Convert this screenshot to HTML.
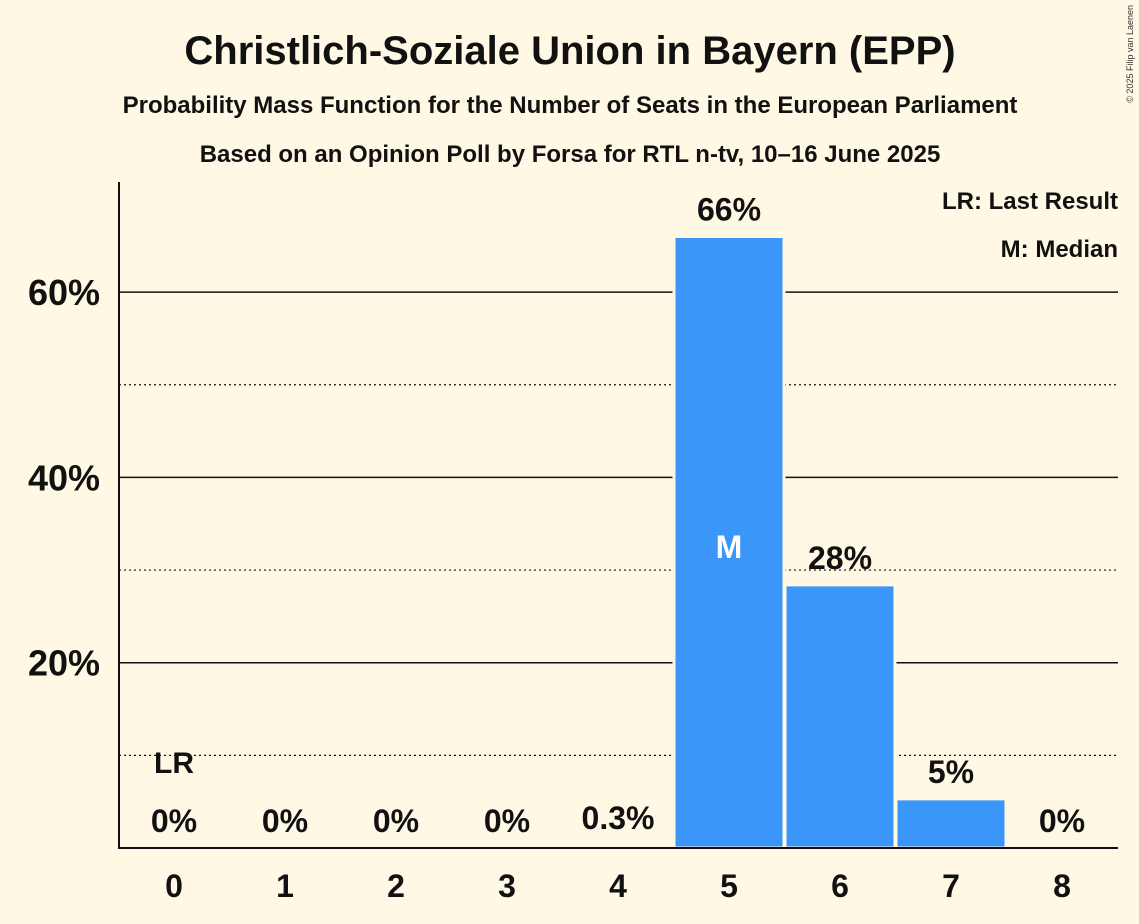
<!DOCTYPE html>
<html><head><meta charset="utf-8"><style>
body{margin:0;background:#fff8e5;}
svg{display:block;font-family:"Liberation Sans",sans-serif;}
</style></head><body>
<svg id="chart" width="1139" height="924" viewBox="0 0 1139 924">
<rect width="1139" height="924" fill="#fff8e5"/>
<text x="570" y="64" text-anchor="middle" font-size="40" font-weight="bold" fill="#111">Christlich-Soziale Union in Bayern (EPP)</text>
<text x="570" y="113" text-anchor="middle" font-size="24" font-weight="bold" fill="#111">Probability Mass Function for the Number of Seats in the European Parliament</text>
<text x="570" y="162" text-anchor="middle" font-size="24" font-weight="bold" fill="#111">Based on an Opinion Poll by Forsa for RTL n-tv, 10–16 June 2025</text>
<text x="1133" y="5" transform="rotate(-90 1133 5)" text-anchor="end" font-size="9" fill="#333">© 2025 Filip van Laenen</text>
<text x="1118" y="209" text-anchor="end" font-size="24" font-weight="bold" fill="#111">LR: Last Result</text>
<text x="1118" y="257" text-anchor="end" font-size="24" font-weight="bold" fill="#111">M: Median</text>
<g id="grid"></g><g id="bars"></g><g id="labels"></g>
<line x1="119" y1="182" x2="119" y2="849" stroke="#111" stroke-width="2"/>
<line x1="118" y1="848" x2="1118" y2="848" stroke="#111" stroke-width="2"/>
</svg>
<script>
const categories=[0,1,2,3,4,5,6,7,8];
const probabilities=[0,0,0,0,0.3,66,28.4,5.3,0];
const valueLabels=["0%","0%","0%","0%","0.3%","66%","28%","5%","0%"];
const yTicks=[20,40,60];
const yMinorTicks=[10,30,50];
const yTickLabels=["20%","40%","60%"];
const lastResult=0, median=5;
const NS="http://www.w3.org/2000/svg";
const y=v=>848-v*9.265;
const x=c=>174+c*111;
function mk(tag,attrs,parent,text){const e=document.createElementNS(NS,tag);for(const k in attrs)e.setAttribute(k,attrs[k]);if(text!==undefined)e.textContent=text;parent.appendChild(e);return e;}
const grid=document.getElementById('grid'),bars=document.getElementById('bars'),labels=document.getElementById('labels');
yMinorTicks.forEach(t=>{const l=mk('line',{x1:119,x2:1118,y1:y(t),y2:y(t),stroke:'#111','stroke-width':1.2,'stroke-dasharray':'2,3'},grid);

});
yTicks.forEach((t,i)=>{const l=mk('line',{x1:119,x2:1118,y1:y(t),y2:y(t),stroke:'#111','stroke-width':1.5},grid);


const tl=mk('text',{x:100,y:y(t)+13,'text-anchor':'end','font-size':36,'font-weight':'bold',fill:'#111'},labels,yTickLabels[i]);

});
categories.forEach((c,i)=>{const v=probabilities[i];
if(v>0){const r=mk('rect',{x:x(c)-55,y:y(v),width:110,height:848-y(v),fill:'#3a96f9',stroke:'#fff8e5','stroke-width':3},bars);

}
const xl=mk('text',{x:x(c),y:897,'text-anchor':'middle','font-size':32,'font-weight':'bold',fill:'#111'},labels,String(c));


const vl=mk('text',{x:x(c),y:Math.min(y(v),848)-16,'text-anchor':'middle','font-size':32,'font-weight':'bold',fill:'#111'},labels,valueLabels[i]);


if(c===lastResult){const lr=mk('text',{x:x(c),y:773,'text-anchor':'middle','font-size':30,'font-weight':'bold',fill:'#111'},labels,'LR');

}
if(c===median){const m=mk('text',{x:x(c),y:558,'text-anchor':'middle','font-size':32,'font-weight':'bold',fill:'#fff'},labels,'M');

}
});
</script>
</body></html>
